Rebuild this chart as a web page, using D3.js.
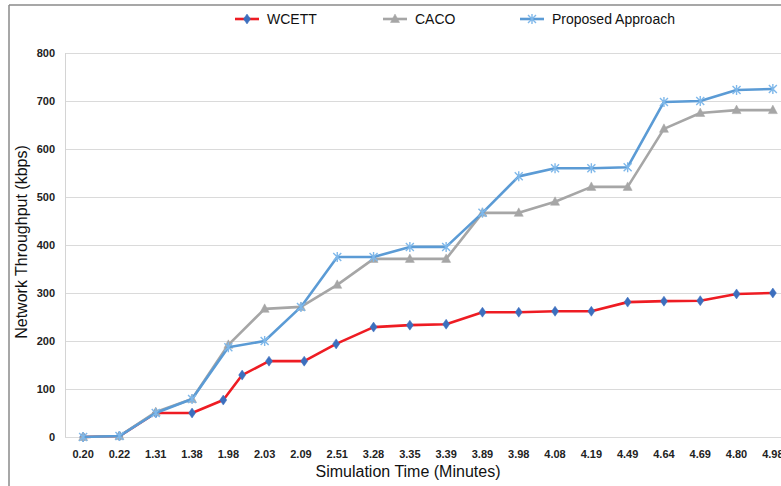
<!DOCTYPE html>
<html>
<head>
    <script src="https://d3js.org/d3.v7.min.js"></script>
    <style>
        body { margin: 0; background: #fff; font-family: "Liberation Sans", Arial, sans-serif; }
        svg { display: block; }
        .tick-lbl { font-size: 11px; font-weight: bold; fill: #222; }
        .axis-title { font-size: 16px; fill: #111; }
        .legend-text { font-size: 14px; fill: #111; }
    </style>
</head>
<body>
<svg id="chart" width="781" height="486"></svg>
<script>
    // categories along the x axis (minutes)
    const times = ["0.20", "0.22", "1.31", "1.38", "1.98", "2.03", "2.09", "2.51", "3.28", "3.35",
        "3.39", "3.89", "3.98", "4.08", "4.19", "4.49", "4.64", "4.69", "4.80", "4.98"];
    const yTicks = [0, 100, 200, 300, 400, 500, 600, 700, 800];

    // throughput values (kbps)
    const proposed = [0, 2, 50, 79, 187, 200, 271, 375, 375, 396, 396, 467, 543, 560, 560, 562, 698, 700, 723, 725];
    const caco = [0, 2, 52, 79, 192, 267, 271, 317, 371, 371, 371, 467, 467, 490, 521, 521, 642, 675, 681, 681];
    // WCETT points sit at their own positions along the axis (category index units)
    const wcettPos = [0, 1, 2, 3, 3.86, 4.38, 5.12, 6.09, 6.97, 8, 9, 10, 11, 12, 13, 14, 15, 16, 17, 18, 19];
    const wcett = [0, 2, 50, 50, 77, 129, 158, 158, 194, 229, 233, 235, 260, 260, 262, 262, 281, 283, 284, 298, 300];

    const svg = d3.select("#chart");
    const margin = { left: 65, top: 53, right: -10, bottom: 49 };
    const W = 781, H = 486;

    const x = d3.scaleLinear()
        .domain([-0.5, times.length - 0.5])
        .range([margin.left, W - margin.right]);
    const y = d3.scaleLinear()
        .domain([0, 800])
        .range([H - margin.bottom, margin.top]);

    // outer frame
    svg.append("line").attr("x1", 9).attr("x2", W).attr("y1", 5).attr("y2", 5)
        .attr("stroke", "#8a8a8a").attr("stroke-width", 1.5);
    svg.append("line").attr("x1", 9).attr("x2", 9).attr("y1", 5).attr("y2", H)
        .attr("stroke", "#8a8a8a").attr("stroke-width", 1.5);

    // gridlines
    svg.append("g").selectAll("line").data(yTicks).enter().append("line")
        .attr("x1", margin.left).attr("x2", W)
        .attr("y1", d => y(d) + 0.5).attr("y2", d => y(d) + 0.5)
        .attr("stroke", "#dadada").attr("stroke-width", 1);
    svg.append("line")
        .attr("x1", margin.left + 0.5).attr("x2", margin.left + 0.5)
        .attr("y1", y(800)).attr("y2", y(0))
        .attr("stroke", "#d4d4d4");

    // y tick labels
    svg.append("g").selectAll("text").data(yTicks).enter().append("text")
        .attr("class", "tick-lbl")
        .attr("x", 55).attr("y", d => y(d) + 4)
        .attr("text-anchor", "end")
        .text(d => d);

    // x tick labels
    svg.append("g").selectAll("text").data(times).enter().append("text")
        .attr("class", "tick-lbl")
        .attr("x", (d, i) => x(i)).attr("y", 458)
        .attr("text-anchor", "middle")
        .text(d => d);

    // axis titles
    svg.append("text").attr("class", "axis-title")
        .attr("x", 408).attr("y", 477).attr("text-anchor", "middle")
        .text("Simulation Time (Minutes)");
    svg.append("text").attr("class", "axis-title")
        .attr("transform", "translate(27,242) rotate(-90)")
        .attr("text-anchor", "middle")
        .text("Network Throughput (kbps)");

    // marker shapes
    const diamond = "M0,-5L3.5,0L0,5L-3.5,0Z";
    const triangle = "M0,-5L4.5,3.5L-4.5,3.5Z";
    const star = "M-4,-4L4,4M-4,4L4,-4M0,-5L0,5";

    const series = [
        { name: "WCETT", pos: wcettPos, vals: wcett, line: "#ee1c23", mark: "#3c6fbe", shape: diamond, fill: true },
        { name: "CACO", pos: times.map((d, i) => i), vals: caco, line: "#a6a6a6", mark: "#a6a6a6", shape: triangle, fill: true },
        { name: "Proposed Approach", pos: times.map((d, i) => i), vals: proposed, line: "#5b9bd5", mark: "#7fb8ea", shape: star, fill: false }
    ];

    const line = d3.line().x(d => x(d[0])).y(d => y(d[1]));

    series.forEach(s => {
        const pts = s.vals.map((v, i) => [s.pos[i], v]);
        const g = svg.append("g");
        g.append("path").datum(pts)
            .attr("d", line)
            .attr("fill", "none")
            .attr("stroke", s.line)
            .attr("stroke-width", 2.6)
            .attr("stroke-linejoin", "round");
        g.selectAll("path.mk").data(pts).enter().append("path")
            .attr("class", "mk")
            .attr("transform", d => `translate(${x(d[0])},${y(d[1])})`)
            .attr("d", s.shape)
            .attr("fill", s.fill ? s.mark : "none")
            .attr("stroke", s.mark)
            .attr("stroke-width", s.fill ? 0.5 : 1.4);
    });

    // legend
    const legendX = [235, 383, 520];
    series.forEach((s, i) => {
        const g = svg.append("g").attr("transform", `translate(${legendX[i]},19)`);
        g.append("line").attr("x1", 0).attr("x2", 24).attr("y1", 0).attr("y2", 0)
            .attr("stroke", s.line).attr("stroke-width", 2.6);
        g.append("path").attr("transform", "translate(12,0)")
            .attr("d", s.shape)
            .attr("fill", s.fill ? s.mark : "none")
            .attr("stroke", s.mark)
            .attr("stroke-width", s.fill ? 0.5 : 1.4);
        g.append("text").attr("class", "legend-text")
            .attr("x", 32).attr("y", 5)
            .text(s.name);
    });
</script>
</body>
</html>
